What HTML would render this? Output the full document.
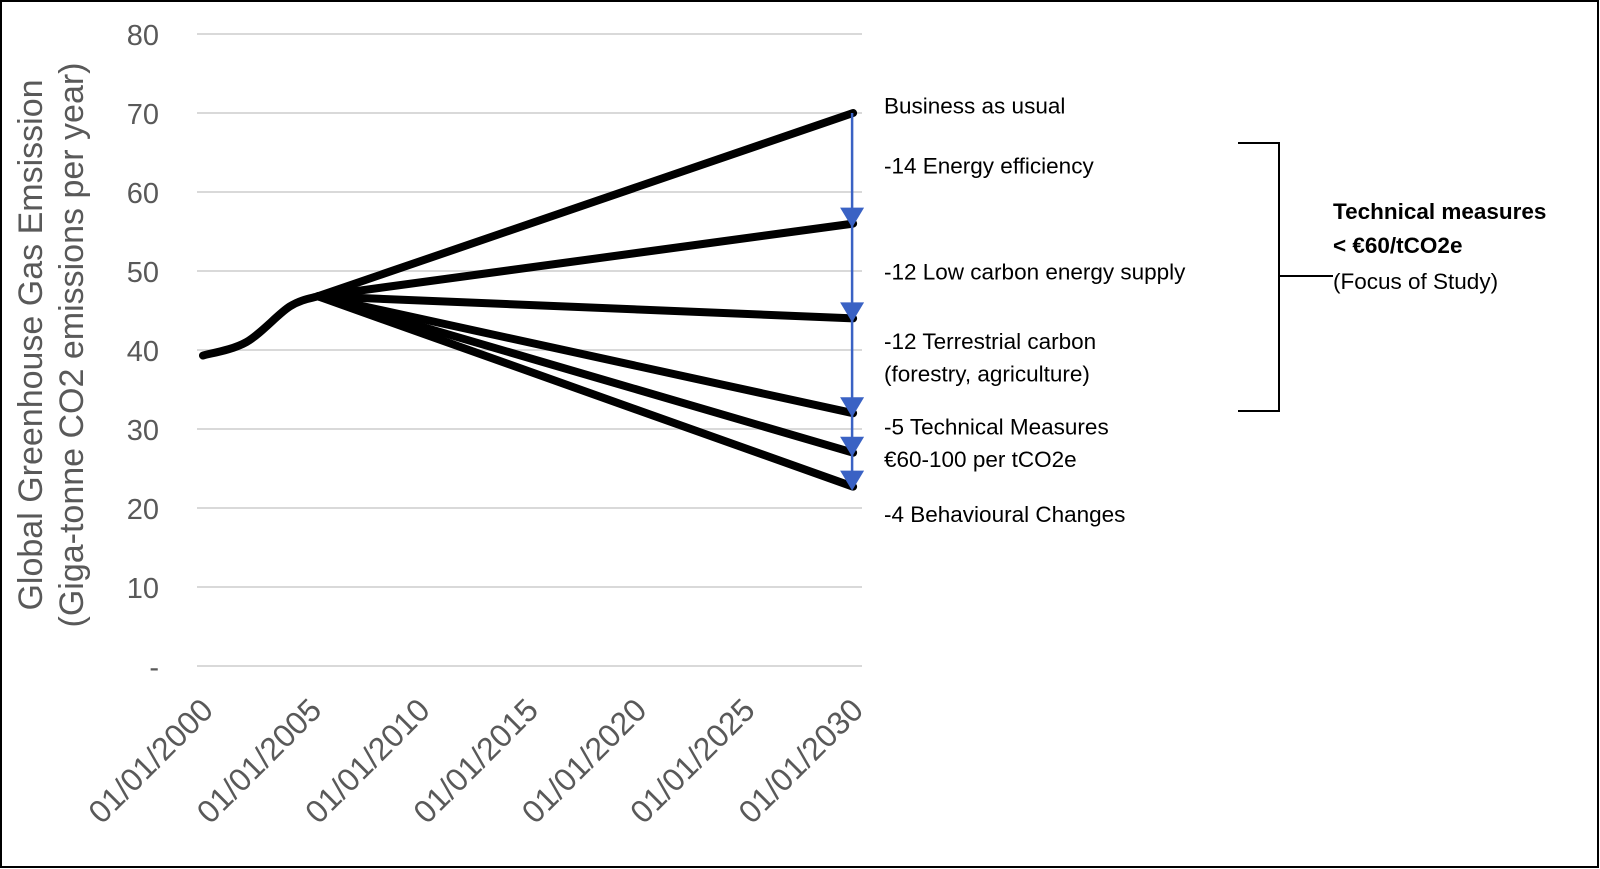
<!DOCTYPE html>
<html><head><meta charset="utf-8"><style>
body{margin:0;background:#fff;}
svg{display:block;font-family:"Liberation Sans",sans-serif;}
</style></head><body>
<svg id="c" width="1600" height="869">
<rect x="1" y="1" width="1597" height="866" fill="#fff" stroke="#000" stroke-width="2"/>
<g id="grid"></g><g id="lines"></g><g id="arrows"></g><g id="labels"></g>
</svg>
<script>
const yTicks=[0,10,20,30,40,50,60,70,80];
const yTickLabels=['-','10','20','30','40','50','60','70','80'];
const xTicks=[2000,2005,2010,2015,2020,2025,2030];
const histYears=[2000,2002,2004,2005.3];
const histValues=[39.3,41,45.5,46.8];
const scenarioStart=[2005.3,46.8];
const scenarioEnds=[70,56,44,32,27,22.7];
const annotations=[['Business as usual',70.8],['-14 Energy efficiency',63.2],['-12 Low carbon energy supply',49.8],['-12 Terrestrial carbon',41],['(forestry, agriculture)',36.9],['-5 Technical Measures',30.2],['€60-100 per tCO2e',26.1],['-4 Behavioural Changes',19.1]];
const NS='http://www.w3.org/2000/svg';
const X=y=>203+(y-2000)*21.67, Y=v=>666-v*7.9;
function mk(p,t,a){const e=document.createElementNS(NS,t);for(const k in a)e.setAttribute(k,a[k]);document.getElementById(p).appendChild(e);return e;}
yTicks.forEach((v,i)=>{
 let l=mk('grid','line',{x1:197,x2:862,y1:Y(v),y2:Y(v),stroke:'#d9d9d9','stroke-width':2});
 
 
 let t=mk('grid','text',{x:159,y:Y(v)+11,'text-anchor':'end','font-size':29,fill:'#595959'});t.textContent=yTickLabels[i];
 
 
});
xTicks.forEach(y=>{
 let t=mk('grid','text',{transform:`translate(${X(y)+12},${712}) rotate(-45)`,'text-anchor':'end','font-size':32,fill:'#595959'});t.textContent='01/01/'+y;
 
 
});
let yt=mk('grid','text',{transform:'translate(42,345) rotate(-90)','text-anchor':'middle','font-size':34,fill:'#595959'});


yt.innerHTML='<tspan x="0" y="0">Global Greenhouse Gas Emsission</tspan><tspan x="0" y="41">(Giga-tonne CO2 emissions per year)</tspan>';
let pts=histYears.map((y,i)=>[X(y),Y(histValues[i])]);
let d='M'+pts[0][0]+' '+pts[0][1];
for(let i=1;i<pts.length;i++){
 const p0=pts[Math.max(i-2,0)],p1=pts[i-1],p2=pts[i],p3=pts[Math.min(i+1,pts.length-1)];
 const c1=[p1[0]+(p2[0]-p0[0])/6,p1[1]+(p2[1]-p0[1])/6],c2=[p2[0]-(p3[0]-p1[0])/6,p2[1]-(p3[1]-p1[1])/6];
 d+=` C${c1[0]} ${c1[1]} ${c2[0]} ${c2[1]} ${p2[0]} ${p2[1]}`;
}
let h=mk('lines','path',{d:d,fill:'none',stroke:'#000','stroke-width':8,'stroke-linejoin':'round','stroke-linecap':'round'});


scenarioEnds.forEach((v,i)=>{
 let l=mk('lines','line',{x1:X(scenarioStart[0]),y1:Y(scenarioStart[1]),x2:X(2030),y2:Y(v),stroke:'#000','stroke-width':8,'stroke-linecap':'round'});
 
 
});
let ax=X(2030)-1;
let bl=mk('arrows','line',{x1:ax,x2:ax,y1:Y(scenarioEnds[0]),y2:Y(scenarioEnds[5]),stroke:'#3a62c4','stroke-width':2.5});


scenarioEnds.slice(1).forEach(v=>{
 let y=Y(v)+4;
 let p=mk('arrows','polygon',{points:`${ax-12},${y-20} ${ax+12},${y-20} ${ax},${y}`,fill:'#3a62c4'});
 
 
});
annotations.forEach(a=>{
 let t=mk('labels','text',{x:884,y:Y(a[1])+7,'font-size':22.5,fill:'#000'});t.textContent=a[0];
 
 
});
let br=mk('labels','path',{d:'M1238 143 H1279 V411 H1238 M1279 276 H1333',fill:'none',stroke:'#000','stroke-width':2});


[['Technical measures',219,'bold'],['< €60/tCO2e',253,'bold'],['(Focus of Study)',289,'normal']].forEach(a=>{
 let t=mk('labels','text',{x:1333,y:a[1],'font-size':22.5,'font-weight':a[2],fill:'#000'});t.textContent=a[0];
 
 
});
</script>
</body></html>
